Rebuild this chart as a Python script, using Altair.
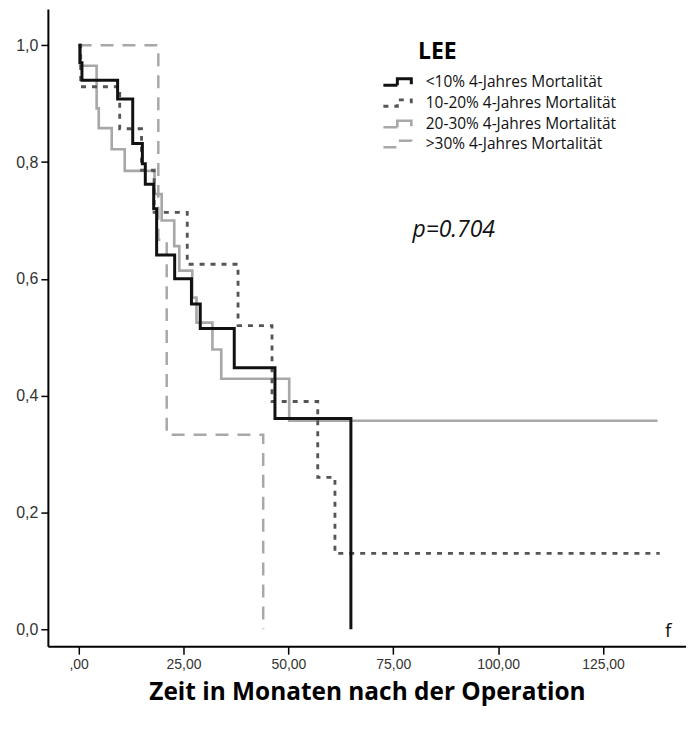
import altair as alt
import pandas as pd

groups = [
    "<10% 4-Jahres Mortalität",
    "10-20% 4-Jahres Mortalität",
    "20-30% 4-Jahres Mortalität",
    ">30% 4-Jahres Mortalität",
]

# Kaplan-Meier step curves (time in months, survival)
t_lt10 = [0, 0.3, 0.8, 9.3, 12.9, 15.2, 15.9, 17.9, 18.6, 22.9, 26.9, 29.0, 37.1, 46.8, 64.9]
s_lt10 = [1.0, 0.97, 0.94, 0.908, 0.832, 0.797, 0.762, 0.72, 0.641, 0.60, 0.557, 0.515, 0.448, 0.361, 0.0]

t_10_20 = [0, 0.5, 9.8, 15.0, 18.0, 25.9, 38.0, 46.1, 57.0, 61.1, 138.5]
s_10_20 = [1.0, 0.929, 0.857, 0.786, 0.714, 0.625, 0.52, 0.39, 0.26, 0.13, 0.13]

t_20_30 = [0, 0.5, 4.3, 4.8, 7.9, 11.0, 18.1, 19.8, 22.8, 24.0, 27.1, 28.1, 31.9, 34.0, 50.2, 138.0]
s_20_30 = [1.0, 0.965, 0.892, 0.858, 0.822, 0.785, 0.745, 0.70, 0.656, 0.614, 0.568, 0.525, 0.479, 0.429, 0.357, 0.357]

t_gt30 = [0, 19.0, 21.0, 44.0]
s_gt30 = [1.0, 0.667, 0.333, 0.0]

x_ticks = [0, 25, 50, 75, 100, 125]
y_ticks = [0, 0.2, 0.4, 0.6, 0.8, 1.0]

colors = ["#111111", "#555555", "#a8a8a8", "#a8a8a8"]
dashes = [[1, 0], [5, 6], [1, 0], [13, 9]]
widths = [3, 2.5, 2, 2]

# draw order: black on top
series = [
    (groups[3], t_gt30, s_gt30),
    (groups[2], t_20_30, s_20_30),
    (groups[1], t_10_20, s_10_20),
    (groups[0], t_lt10, s_lt10),
]
rows = []
for g, ts, ss in series:
    for t, s in zip(ts, ss):
        rows.append({"group": g, "t": t, "s": s})
df = pd.DataFrame(rows)

xscale = alt.Scale(domain=[-7.32, 144.77], nice=False, zero=False)
yscale = alt.Scale(domain=[-0.029, 1.062], nice=False, zero=False)

sym_path = "M-1.5,0.3H-0.1V-0.35H1.3V0.2"
leg = alt.Legend(
    title=None,
    orient="none",
    legendX=340,
    legendY=62,
    symbolType=sym_path,
    symbolSize=400,
    symbolFillColor="transparent",
    labelFont="Open Sans",
    labelFontSize=15.5,
    labelColor="#111111",
    labelOffset=16,
    labelLimit=400,
    rowPadding=0,
)

lines = alt.Chart(df).mark_line(interpolate="step-after").encode(
    x=alt.X(
        "t:Q",
        scale=xscale,
        axis=alt.Axis(
            values=x_ticks,
            labelExpr="datum.value == 0 ? ',00' : replace(format(datum.value, '.2f'), '.', ',')",
            title="Zeit in Monaten nach der Operation",
            titleFont="Open Sans",
            titleFontSize=24.5,
            titleFontWeight="bold",
            titleColor="#000000",
            titlePadding=9,
            tickSize=8,
        ),
    ),
    y=alt.Y(
        "s:Q",
        scale=yscale,
        axis=alt.Axis(
            values=y_ticks,
            labelExpr="replace(format(datum.value, '.1f'), '.', ',')",
            title=None,
            tickSize=7,
            labelFontSize=16,
        ),
    ),
    color=alt.Color("group:N", scale=alt.Scale(domain=groups, range=colors), legend=leg),
    strokeDash=alt.StrokeDash("group:N", scale=alt.Scale(domain=groups, range=dashes), legend=leg),
    strokeWidth=alt.StrokeWidth("group:N", scale=alt.Scale(domain=groups, range=widths), legend=leg),
    detail="group:N",
)

ann_lee = pd.DataFrame({"t": [80.9], "s": [0.988], "label": ["LEE"]})
ann_p = pd.DataFrame({"t": [89.4], "s": [0.683], "label": ["p=0.704"]})
ann_f = pd.DataFrame({"t": [140.5], "s": [-0.003], "label": ["f"]})

lee = alt.Chart(ann_lee).mark_text(
    font="Open Sans", fontSize=23, fontWeight="bold", align="left", baseline="middle", color="#000000"
).encode(x="t:Q", y="s:Q", text="label:N")

ptxt = alt.Chart(ann_p).mark_text(
    font="Open Sans", fontSize=23, fontStyle="italic", align="center", baseline="middle", color="#111111"
).encode(x="t:Q", y="s:Q", text="label:N")

ftxt = alt.Chart(ann_f).mark_text(
    font="Open Sans", fontSize=19, align="center", baseline="middle", color="#111111"
).encode(x="t:Q", y="s:Q", text="label:N")

chart = (
    alt.layer(lines, lee, ptxt, ftxt)
    .properties(
        width=640,
        height=639,
        padding={"left": 40, "top": 0, "right": 0, "bottom": 86},
        autosize=alt.AutoSizeParams(type="none"),
        background="white",
    )
    .configure_view(strokeWidth=0)
    .configure_axis(
        grid=False,
        domainColor="#000000",
        domainWidth=2,
        tickColor="#000000",
        tickWidth=1.5,
        labelFont="Liberation Sans",
        labelFontSize=14,
        labelColor="#333333",
        labelPadding=3,
    )
)

chart.save("out.html", embed_options={"renderer": "svg", "actions": False})
